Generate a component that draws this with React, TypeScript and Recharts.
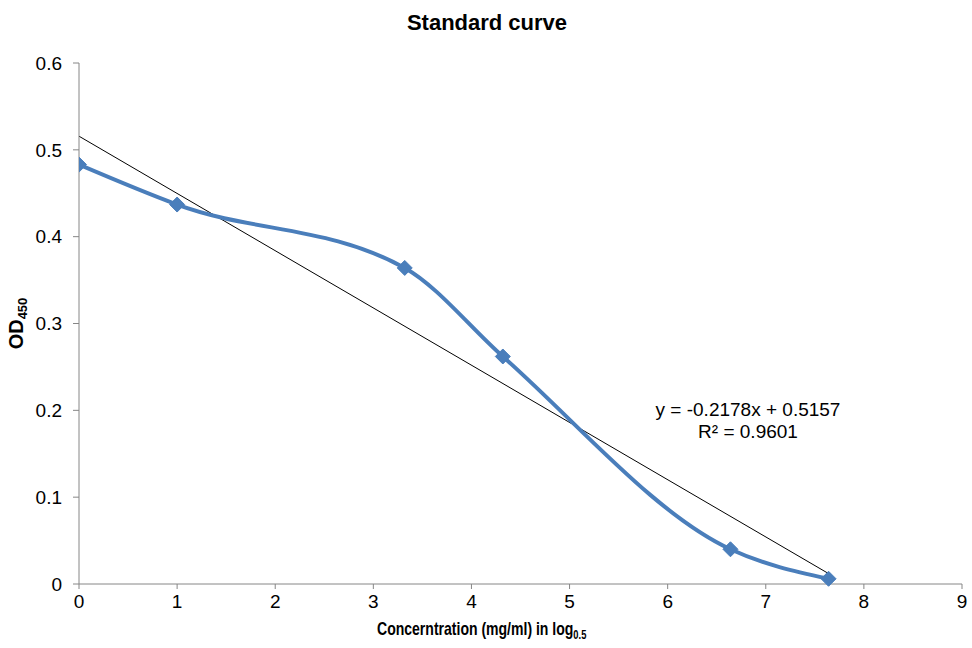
import { LineChart, Line, XAxis, YAxis, Label } from 'recharts';

// log0.5 concentration vs OD450
const concentration = [0, 1, 3.32, 4.32, 6.64, 7.64];
const od450 = [0.483, 0.437, 0.364, 0.262, 0.04, 0.006];

// linear trendline, end points
const trendX = [0, 7.64];
const trendY = [0.5157, 0.012];

const xTicks = [0, 1, 2, 3, 4, 5, 6, 7, 8, 9];
const yTicks = [0, 0.1, 0.2, 0.3, 0.4, 0.5, 0.6];

const equation = 'y = -0.2178x + 0.5157';
const rSquared = 'R² = 0.9601';

const points = concentration.map((x, i) => ({ x, y: od450[i] }));
const trend = trendX.map((x, i) => ({ x, y: trendY[i] }));

const BLUE = '#4A7EBB';
const AXIS = '#868686';
const FONT = '"Liberation Sans", Arial, sans-serif';

const Diamond = (props: any) => {
  const { cx, cy } = props;
  if (cx == null || cy == null) return null;
  const r = 7.5;
  return (
    <polygon
      points={`${cx},${cy - r} ${cx + r},${cy} ${cx},${cy + r} ${cx - r},${cy}`}
      fill={BLUE}
      stroke={BLUE}
      strokeWidth={1}
    />
  );
};

const YTitle = (props: any) => {
  const { viewBox } = props;
  const cy = viewBox.y + viewBox.height / 2;
  return (
    <text
      x={23}
      y={cy}
      transform={`rotate(-90, 23, ${cy})`}
      textAnchor="middle"
      fontFamily={FONT}
      fontWeight="bold"
      fontSize={20}
      fill="#000"
    >
      OD<tspan fontSize={13} dy={4}>450</tspan>
    </text>
  );
};

// the reference title is horizontally condensed
const XTitle = () => (
  <g fontFamily={FONT} fontWeight="bold" fill="#000" transform="translate(377, 635) scale(0.78, 1)">
    <text x={0} y={0} fontSize={18}>
      Concerntration (mg/ml) in log<tspan fontSize={12} dy={4}>0.5</tspan>
    </text>
  </g>
);

export default function App() {
  return (
    <div style={{ position: 'absolute', left: 0, top: 0, width: 972, height: 648, background: '#fff', fontFamily: FONT }}>
      <div style={{ position: 'absolute', left: 0, width: 974, top: 10, textAlign: 'center', fontSize: 22, fontWeight: 'bold' }}>
        Standard curve
      </div>
      <div style={{ position: 'absolute', left: 628, width: 240, top: 399, textAlign: 'center', fontSize: 19, lineHeight: '22px' }}>
        {equation}
        <br />
        {rSquared}
      </div>
      <LineChart width={972} height={648} margin={{ top: 63, right: 10, left: 0, bottom: 0 }}>
        <XAxis
          type="number"
          dataKey="x"
          domain={[0, 9]}
          ticks={xTicks}
          interval={0}
          allowDataOverflow
          stroke={AXIS}
          tickSize={5}
          tickMargin={6}
          height={64}
          tick={{ fill: '#000', fontSize: 19, fontFamily: FONT }}
        >
          <Label content={<XTitle />} />
        </XAxis>
        <YAxis
          type="number"
          dataKey="y"
          domain={[0, 0.6]}
          ticks={yTicks}
          interval={0}
          stroke={AXIS}
          tickSize={6}
          tickMargin={11}
          width={79}
          tickFormatter={(v: number) => (v === 0 ? '0' : String(Math.round(v * 10) / 10))}
          tick={{ fill: '#000', fontSize: 19, fontFamily: FONT }}
        >
          <Label content={<YTitle />} />
        </YAxis>
        <Line
          data={trend}
          dataKey="y"
          type="linear"
          stroke="#000"
          strokeWidth={1}
          dot={false}
          activeDot={false}
          isAnimationActive={false}
        />
        <Line
          data={points}
          dataKey="y"
          type="monotone"
          stroke={BLUE}
          strokeWidth={4}
          dot={<Diamond />}
          activeDot={false}
          isAnimationActive={false}
        />
      </LineChart>
    </div>
  );
}
